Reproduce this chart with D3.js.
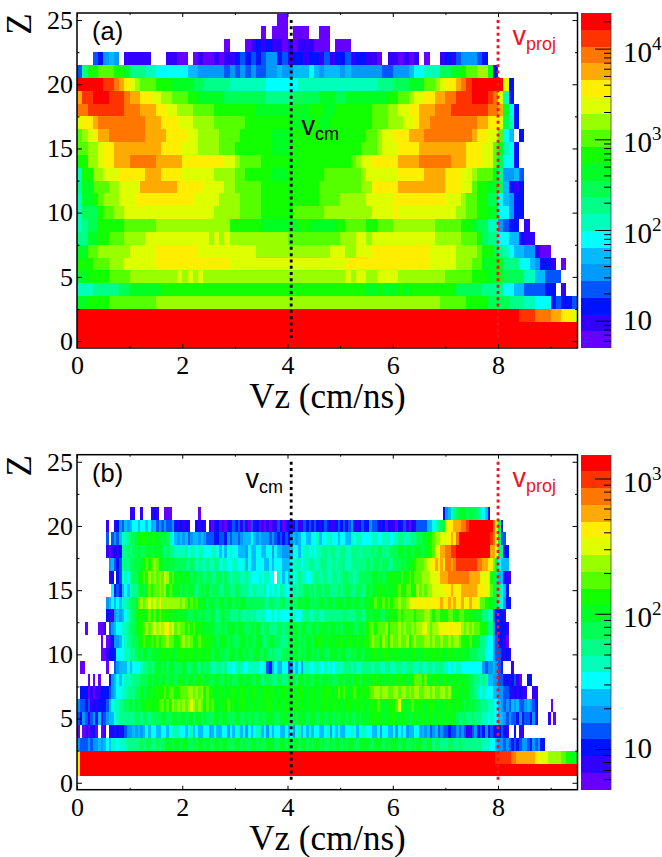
<!DOCTYPE html>
<html>
<head>
<meta charset="utf-8">
<script src="https://cdn.jsdelivr.net/npm/d3@7"></script>
<style>
body { margin: 0; background: #fff; }
svg { display: block; }
</style>
</head>
<body>
<div id="chart"></div>
<script>
// charge number of each row, top row first
var zValues = [25,24,23,22,21,20,19,18,17,16,15,14,13,12,11,10,9,8,7,6,5,4,3,2,1,0];

// colour bands, lowest to highest count
var bandColors = ["#6600ff","#3300ff","#0011ff","#0055ff","#0099ff","#00bbff","#00ffff","#00ffbb","#00ff88","#00ff55",
                  "#00ff22","#11ff00","#55ff00","#99ff00","#ddff00","#ffee00","#ffaa00","#ff7700","#ff3300","#ff0000"];
// one character per Vz bin = colour band, "." = empty
var bandCodes = "0123456789abcdefghij";

// panel (a): 0.1 cm/ns bins, 5 bins per group
var rowsA = [
"..... ..... ..... ..... ..... ..... ..... ...00",
"..... ..... ..... ..... ..... ..... ..... 0.000 .000. .00",
"..... ..... ..... ..... ..... ...0. ..012 12110 10111 000.0 00",
"...32 454.1 1111. ..110 0.010 01011 23232 34423 12212 21312 23122 110.1 10101 .0..1 21344 432",
"38bbc ccbba 88877 66666 65544 44434 34343 34454 45556 54555 45444 44433 44456 67779 9aabc cdda2",
"jjjjj iihgf edccc bbbaa aa998 88887 77777 76666 66777 77777 77777 77888 999aa accde ffghi jjjjj je2",
"giijj jiiih ggffe eddcc cbbaa aaa99 99999 98888 89999 9aaa9 9aaaa aaaab bccde effgg hhiii jjjih e72",
"hhiii iiiih hhggg ffeed ddccc cbbbb bbbba aaaaa aaaab bbaab bbbbb bcccd deeff ggghh hiiii iiihh ga62",
"effgh hhhhh hhhgg gfffe eeddd dcccc ccbbb bbbbb baaaa baabb bbbbb bcccd ddeef gghhh hhhhh hggff e972",
"cdefg ghhhh hhhgg ggfff feedd ddccc cbbbb bbaaa abbbb bbbbb bbbbb ccdee fffgg ghhhh hhhhh gffee c65.2",
"ccdde ffggg ggggg gffff eeedd ddccc bbbbb bbaaa abbbb bbbbb bbbbc ccdee effff ggggg ggggf ffeec a762",
"bbdde ffggg hhhhh ggggg fffff fffee dcccc bbbbb bbbbb bbbbb bbcde effff fgggg hhhhh hgggf ffeec 9662",
"7bbdd eeeff fffgg gffff eeeee edddd ccbbb bbaaa bbbbb bbccc ccccd eeeee effff fgggg fffee dccca 84453",
"8aacc cddee eeggg ggggf ffffe eeedd ccccc bbbbb bbbbb bcccc ccccd dffff fgggg ggggg fffee cbbaa 95212",
"7aabc dddee effff fffff ffeee eeddd dcccc bbbbb bbbbb bcccc ddddd eeeee fffff fffff eeedc cbb99 65422",
"7999b ccdde eeeee eeeee eeeee edddd dcccc bbbbb bcccc ccddd ddddd deeee feeee eeeee eeddc cbbaa 66422",
"7899b bbbbc ccccc ddddd ddddd ddddb bbbbb aaaaa aabba aaaab bcccc bbccc ddddd dddcc cccbb a9977 4322. 1",
"88aab bcccd dddee eeeee eeeee deded ddddd ddddd ccccc ccccc dddee deeee eeeee eeedd dddcc cb988 66552 11",
"aaccd ddddd eeeee fffff fffee eeeee eeeed ddddd ddddd dddee eddee effff fffff ffeee eeddd dcbb9 87655 44100",
"bbbcc cddde eeeee fffff fffff ffffe eeeee eeeee eeeee eeeee effff fffff fffff ffeee eeddd ccaaa a8886 65422 1.0",
"aabbb bcccc ddddd dddde deded ddddd ddddd ddddd ddddd ddddd dedee ddeee edddd ddddd ccccc bbbaa a9999 77553 33",
"77788 88899 aaaaa abbbb bbbbb bbbbb bbbbb bbbbb bbbbb bbbbb bbbbb aabaa ababb bbbbb bb999 99888 86655 33332 2.1",
"aabbb bcccc ccccc ddddd ddddd ddddd ddddd ddddd ddddd ddddd ddddd ddddd ddddd ddddc ccccb bbb99 99888 77666 23223",
"jjjjj jjjjj jjjjj jjjjj jjjjj jjjjj jjjjj jjjjj jjjjj jjjjj jjjjj jjjjj jjjjj jjjjj jjjjj jjjjj jjjji iihhh ggffe",
"jjjjj jjjjj jjjjj jjjjj jjjjj jjjjj jjjjj jjjjj jjjjj jjjjj jjjjj jjjjj jjjjj jjjjj jjjjj jjjjj jjjjj jjjjj jjjjj",
"jjjjj jjjjj jjjjj jjjjj jjjjj jjjjj jjjjj jjjjj jjjjj jjjjj jjjjj jjjjj jjjjj jjjjj jjjjj jjjjj jjjjj jjjjj jjjjj"
];

// panel (b): 0.05 cm/ns bins, 10 bins per group
var rowsB = [
"",
"",
"",
"",
".......... .......... 11..1...12 1..000.... ......0... .......... .......... .......... .......... .......... .......... .......... .......... .........2 45789aaa9a 9987652",
".......... .1..124354 5665665645 3434334212 121..2121. 1012010213 2313103120 1010113201 2123113231 3212321123 2313421232 2433212021 1021310213 333556789a effggghhij jjjjjjjjhe 92",
".......... .3.3435778 99aabbbabb aa9a976545 4534554543 3322332434 4345556545 4443432323 2454566556 6756677665 6655767766 6677667776 7788778889 9aabbcddee efgfhjjjjj jjjjjjjihf 933",
".......... .101212889 899a99aa9a aa98988777 7867767766 6776565676 6555465566 5566465544 4566567767 6778878877 8877888788 8898998889 99aa9aa9aa a9abbcfegg hhiijjjjjj jjjjjjjgge 8822",
".......... ..45323888 99a9abcbcd cab9a9a999 9889878778 7788677667 7667565566 6556566655 5677767788 7788877878 8877888888 9889989988 999a9aabbc ccdeefgfgf hhghiiiiii iihhggffc9 6555",
".......... ..12.23676 899abcbdcd cdcedbcaba aba9a99989 9889989878 8877876667 67766.7656 5767877667 8878877887 8998878999 99aa9a9aab abacabcbcc cdddeeefgg ghhhhhhhhg gggfefeb99 55211",
".......... ...6232565 7889a9bcbc cdcdbcbab9 a9aa989a9a 8999889988 9988877877 7867676876 6787889989 8998998889 8999889988 a9aabbabaa bbcbbccbbd cdcddeeeef ffgfffgggg ggfffeec99 8652",
".......... .456565778 99acdcdede dfdddddddc dcbcbcaba9 aa99aa9aa9 a9aa999999 9889988998 8999a9aa99 99aa9aa9aa a9aa9aa99a abacbbcbcb ccdccdefef feffefffgf fgfgffgefg ffeccbbaa9 76422",
".......... .211454567 89abbabcbc bcbbbabaab aa99aa9a99 9a989a9988 8987887877 7766767666 6776678877 8877888888 8988889988 a9aaa99aab abcbccccbc ccddcbccbb bccbbccbbb baaa887732 221",
"...0....00 1.34566778 99abbcdcde dedefdecdc cbcbcabaaa aa999a9aaa 9aa999a9a9 8998889989 99aa9aa99a a9aaa9aa9a 9aaaa99aa9 bccbcccdbc ccdcdccdcd deedcddeef effefedcdc dccbba8842 2221",
".........0 .012445678 899abcbbcb cbccdccbbc dcdcbbcbbb aba9aba9a9 99aa9a99aa 989aa99888 99aa9a9aa9 abbaaababa baabaabaab bcdccbdcbd ccdccdbcdc ccddcdccdc cdcddcbbbc aaa8876643 2210",
".........0 0122266677 889a9aa9aa aabbabaabb babbaabaab a9aa9a99aa 9aa9a99aa9 9a98988899 99aa9a9aa9 a9aa99aaa9 aa99a9aa9a aabbaabbba bbaabaabba aabbabbaba ababaabaa9 9988866643 32121",
".00....... .0..345556 5666788989 aa9a9aa999 a989a98a89 8778878676 7876677776 6732565566 3465647766 7766767677 7888787788 8878877887 7887788877 8778878887 7676776666 6666434454 32...1",
"....0.0.0. ..24565677 7888999a9a a9ab9aa9aa a9aa9ab9aa 99aa99a9a9 9aa9aa99a9 8999889988 a9a8aa9a99 aa9aa9a99a a9aa9ab9ab aabbabaaba abbabaabcc cbcaabbaab baabaabaa9 9887875544 3322123 10. .22",
".222010112 2234566778 8899a9aaba bbbcbccbbc ccddcdcdbc bbaabaabab aabbaabbaa abbabaaaba abaabbaaba baabbbbabc bcbabcbabb bccddcddcc ddcddcdcdd ccddcdccdd cdbabaaba9 9876766655 4433212121 1..11",
"4332312122 2356778899 a9a9aabbab bccbcbdcdc dcdedcdcbc bcbaabbcab aabbaabaab aabbaabaab aabbabaaba baabbaabab aabbaababa abbbcbaabb bcebaabcab baabbbaaab abaabaa9a9 a998887766 5434354533 45432..... 0",
"3243134252 3455678888 8899899899 99aa99aa9a a9aa9aa9a9 99aa9aa999 aa99a9a99a 99aaa99aaa 99a9aaa9aa a9aa9aa9a9 aa9a99a9aa aabbabaaab baabaa9abaa baabaabaab aba9899889 8887767665 5434332423 3141....1. 0",
"0.010120.0 1.12121234 4545456566 5566567776 6567565566 4565566465 6756465677 5646566556 5646756575 6655674656 5566765677 6655646655 6465645566 4545345343 3233434311 3423242312 2321..2.11",
"4333434454 5657767778 8888989988 9899aa9aa9 aa99a9aa9a 99aa9aa999 aa9a99aa9a 99aaa99aa9 a9aa9aa9a9 aa9a99a9aa 9a9aa99aaa a99aaa9a9a aa9aa99a9a a99aa89988 8998898888 8888777665 4434323234 43243422",
"fjjjjjjjjj jjjjjjjjjj jjjjjjjjjj jjjjjjjjjj jjjjjjjjjj jjjjjjjjjj jjjjjjjjjj jjjjjjjjjj jjjjjjjjjj jjjjjjjjjj jjjjjjjjjj jjjjjjjjjj jjjjjjjjjj jjjjjjjjjj jjjjjjjjjj jjjjjjjjji iiiiihhggg ggggffeeed ddddccbbaa",
"fjjjjjjjjj jjjjjjjjjj jjjjjjjjjj jjjjjjjjjj jjjjjjjjjj jjjjjjjjjj jjjjjjjjjj jjjjjjjjjj jjjjjjjjjj jjjjjjjjjj jjjjjjjjjj jjjjjjjjjj jjjjjjjjjj jjjjjjjjjj jjjjjjjjjj jjjjjjjjjj jjjjjjjjjj jjjjjjjjjj jjjjjjjjjj",
""
];

var xTicks = [0, 2, 4, 6, 8];
var xMinorTicks = [1, 3, 5, 7, 9];
var zTicks = [0, 5, 10, 15, 20, 25];
var zMinorTicks = [2.5, 7.5, 12.5, 17.5, 22.5];
var vCm = 4.07;
var vProj = 8;

var svg = d3.select("#chart").append("svg").attr("width", 662).attr("height", 857);

var serif = "'Liberation Serif', 'Times New Roman', serif";
var sans = "'Liberation Sans', Arial, sans-serif";

function drawPanel(p) {
    var x = d3.scaleLinear().domain([0, 9.51]).range([77, 577.5]);
    var y = d3.scaleLinear().domain([-0.54, 25.55]).range([p.bottom, p.top]);

    var cells = [];
    p.rows.forEach(function(row, r) {
        if (row === "") return;
        var chars = row.split(" ").join("").split("");
        chars.forEach(function(c, i) {
            if (c !== ".") cells.push({ v: i * p.bin, z: zValues[r], band: bandCodes.indexOf(c) });
        });
    });

    var clipId = "clip" + p.name;
    svg.append("clipPath").attr("id", clipId).append("rect")
        .attr("x", x(0)).attr("y", p.top).attr("width", x.range()[1] - x(0)).attr("height", p.bottom - p.top);

    svg.append("g").attr("clip-path", "url(#" + clipId + ")")
        .selectAll("rect").data(cells).join("rect")
        .attr("x", function(d) { return x(d.v); })
        .attr("width", function(d) { return x(d.v + p.bin) - x(d.v); })
        .attr("y", function(d) { return y(d.z + 0.5); })
        .attr("height", function(d) { return y(d.z - 0.5) - y(d.z + 0.5); })
        .attr("fill", function(d) { return bandColors[d.band]; })
        .attr("shape-rendering", "crispEdges");

    // dotted velocity lines
    [[vCm, "#000"], [vProj, "#f0141e"]].forEach(function(l) {
        svg.append("line")
            .attr("x1", x(l[0])).attr("x2", x(l[0]))
            .attr("y1", y(25)).attr("y2", y(0))
            .attr("stroke", l[1]).attr("stroke-width", 2.8).attr("stroke-dasharray", "3,3.3");
    });

    // frame and ticks
    svg.append("rect").attr("x", x(0)).attr("y", p.top)
        .attr("width", x.range()[1] - x(0)).attr("height", p.bottom - p.top)
        .attr("fill", "none").attr("stroke", "#000").attr("stroke-width", 1.5);

    function styleAxis(g) {
        g.select(".domain").remove();
        g.selectAll("line").attr("stroke", "#000").attr("stroke-width", 1);
        g.selectAll("text").attr("font-family", serif).attr("font-size", 26).attr("fill", "#000");
    }
    svg.append("g").attr("transform", "translate(0," + p.bottom + ")")
        .call(d3.axisBottom(x).tickValues(xTicks).tickSize(-4).tickPadding(7.5).tickFormat(d3.format("d"))).call(styleAxis);
    svg.append("g").attr("transform", "translate(0," + p.bottom + ")")
        .call(d3.axisBottom(x).tickValues(xMinorTicks).tickSize(-2).tickFormat("")).call(styleAxis);
    svg.append("g").attr("transform", "translate(0," + p.top + ")")
        .call(d3.axisTop(x).tickValues(xTicks).tickSize(-4).tickFormat("")).call(styleAxis);
    svg.append("g").attr("transform", "translate(0," + p.top + ")")
        .call(d3.axisTop(x).tickValues(xMinorTicks).tickSize(-2).tickFormat("")).call(styleAxis);
    svg.append("g").attr("transform", "translate(77,0)")
        .call(d3.axisLeft(y).tickValues(zTicks).tickSize(-5).tickPadding(4).tickFormat(d3.format("d"))).call(styleAxis);
    svg.append("g").attr("transform", "translate(77,0)")
        .call(d3.axisLeft(y).tickValues(zMinorTicks).tickSize(-2.5).tickFormat("")).call(styleAxis);
    svg.append("g").attr("transform", "translate(577.5,0)")
        .call(d3.axisRight(y).tickValues(zTicks).tickSize(-5).tickFormat("")).call(styleAxis);
    svg.append("g").attr("transform", "translate(577.5,0)")
        .call(d3.axisRight(y).tickValues(zMinorTicks).tickSize(-2.5).tickFormat("")).call(styleAxis);

    // axis titles
    svg.append("text").attr("x", 327.5).attr("y", p.bottom + 60)
        .attr("text-anchor", "middle").attr("font-family", serif).attr("font-size", 35)
        .text("Vz (cm/ns)");
    svg.append("text").attr("transform", "translate(31," + (p.top + 11) + ") rotate(-90)")
        .attr("text-anchor", "middle").attr("font-family", serif).attr("font-size", 35)
        .text("Z");

    // panel label and velocity labels
    svg.append("text").attr("x", 92).attr("y", p.top + 27)
        .attr("font-family", sans).attr("font-size", 25.5).text(p.label);
    addVelocity(p.cmX, p.cmY, "cm", "#000");
    addVelocity(512.5, p.top + 32, "proj", "#f0141e");

    // colour bar on a log axis
    var c = d3.scaleLog().domain(p.countRange).range([p.bottom, p.top]);
    var edges = bandColors.map(function(col, i) {
        return { color: col, y1: p.bottom - (p.bottom - p.top) * i / 20, y0: p.bottom - (p.bottom - p.top) * (i + 1) / 20 };
    });
    svg.append("g").selectAll("rect").data(edges).join("rect")
        .attr("x", 580.5).attr("width", 30.5)
        .attr("y", function(d) { return d.y0; })
        .attr("height", function(d) { return d.y1 - d.y0; })
        .attr("fill", function(d) { return d.color; })
        .attr("shape-rendering", "crispEdges");
    svg.append("line").attr("x1", 611).attr("x2", 611).attr("y1", p.top).attr("y2", p.bottom)
        .attr("stroke", "#444").attr("stroke-width", 0.8);

    var minors = [];
    p.decades.concat([p.decades[0] / 10]).forEach(function(d) {
        [2, 3, 4, 5, 6, 7, 8, 9].forEach(function(m) {
            var val = d * m;
            if (val > p.countRange[0] && val < p.countRange[1]) minors.push(val);
        });
    });
    svg.append("g").attr("transform", "translate(611,0)")
        .call(d3.axisLeft(c).tickValues(minors).tickSize(7).tickFormat("")).call(styleAxis);
    svg.append("g").attr("transform", "translate(611,0)")
        .call(d3.axisLeft(c).tickValues(p.decades).tickSize(16).tickFormat("")).call(styleAxis);

    p.decades.forEach(function(d) {
        var exp = Math.round(Math.log10(d));
        var t = svg.append("text").attr("x", 623).attr("y", c(d) + (exp === 1 ? 9.5 : 13))
            .attr("font-family", serif).attr("font-size", 29).text("10");
        if (exp > 1) t.append("tspan").attr("dy", -12).attr("font-size", 19).text(exp);
    });
}

function addVelocity(px, py, sub, color) {
    var t = svg.append("text").attr("x", px).attr("y", py)
        .attr("font-family", sans).attr("font-size", 27).attr("fill", color).text("v");
    t.append("tspan").attr("dy", 5).attr("font-size", 18).text(sub);
}

drawPanel({ name: "a", label: "(a)", rows: rowsA, bin: 0.1, top: 13, bottom: 348,
            countRange: [5, 24700], decades: [10, 100, 1000, 10000], cmX: 301.5, cmY: 135 });
drawPanel({ name: "b", label: "(b)", rows: rowsB, bin: 0.05, top: 454.7, bottom: 789.7,
            countRange: [5, 1500], decades: [10, 100, 1000], cmX: 245.5, cmY: 488 });
</script>
</body>
</html>
